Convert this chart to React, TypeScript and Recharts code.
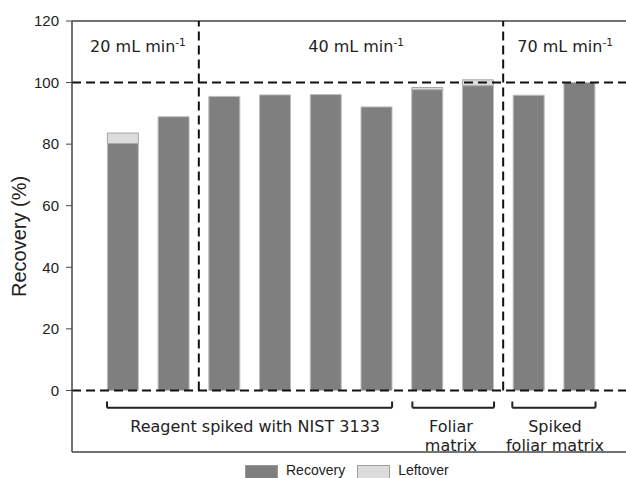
import React from 'react';
import { ComposedChart, Bar, XAxis, YAxis, ReferenceLine, ReferenceDot, Legend } from 'recharts';

// bar positions on the x scale (one per sample)
const positions = [1, 2, 3, 4, 5, 6, 7, 8, 9, 10];
const recovery = [80.2, 88.9, 95.5, 96.0, 96.1, 92.1, 97.7, 99.0, 95.9, 100.0];
const leftover = [3.4, 0, 0, 0, 0, 0, 0.7, 1.9, 0, 0];
const yTicks = [0, 20, 40, 60, 80, 100, 120];

// flow-rate headers
const flowLabels = ['20 mL min', '40 mL min', '70 mL min'];
const flowX = [1.3, 5.6, 9.72];
const flowSplits = [2.5, 8.5];

// sample group brackets
const groupLabels = [['Reagent spiked with NIST 3133'], ['Foliar', 'matrix'], ['Spiked', 'foliar matrix']];
const groupStart = [0.69, 6.71, 8.68];
const groupEnd = [6.31, 8.32, 10.32];
const groupTextX = [3.61, 7.47, 9.52];

const data = positions.map((x, i) => ({ x, recovery: recovery[i], leftover: leftover[i] }));

const ANN_FONT = '"DejaVu Sans", Verdana, sans-serif';
const AXIS_FONT = '"Liberation Sans", Arial, sans-serif';
const DASH = '9 5';

const flowLabel = (text: string) => (props: any) => {
  const { viewBox } = props;
  const cx = viewBox.x + viewBox.width / 2;
  const cy = viewBox.y + viewBox.height / 2;
  return (
    <text x={cx} y={cy + 6} textAnchor="middle" fontFamily={ANN_FONT} fontSize={16} fill="#222">
      <tspan>{text}</tspan>
      <tspan dy={-6} fontSize={10.5}>-1</tspan>
    </text>
  );
};

const groupLabel = (lines: string[]) => (props: any) => {
  const { viewBox } = props;
  const cx = viewBox.x + viewBox.width / 2;
  const cy = viewBox.y + viewBox.height / 2;
  return (
    <text x={cx} y={cy} textAnchor="middle" fontFamily={ANN_FONT} fontSize={16} fill="#222">
      {lines.map((l, i) => (
        <tspan key={l} x={cx} dy={i === 0 ? 6 : 19}>{l}</tspan>
      ))}
    </text>
  );
};

const yLabel = (props: any) => {
  const { viewBox } = props;
  const x = viewBox.x + 26;
  const y = viewBox.y + viewBox.height / 2;
  return (
    <text x={x} y={y} transform={`rotate(-90, ${x}, ${y})`} textAnchor="middle" fontFamily={AXIS_FONT} fontSize={20} fill="#222">
      Recovery (%)
    </text>
  );
};

const LegendContent = () => (
  <div style={{ display: 'flex', alignItems: 'flex-start', paddingLeft: 245, paddingTop: 3, height: 13, fontFamily: AXIS_FONT, fontSize: 14, lineHeight: '14px', color: '#222' }}>
    <span style={{ width: 31, height: 12, background: '#7f7f7f', border: '1px solid #9a9a9a', marginRight: 8 }} />
    <span style={{ marginRight: 12, marginTop: -2 }}>Recovery</span>
    <span style={{ width: 31, height: 12, background: '#dcdcdc', border: '1px solid #a0a0a0', marginRight: 8 }} />
    <span style={{ marginTop: -2 }}>Leftover</span>
  </div>
);

export default function App() {
  return (
    <div style={{ position: 'absolute', left: 0, top: 0, width: 626, height: 478, overflow: 'hidden', background: '#fff' }}>
      <ComposedChart width={626} height={478} data={data} margin={{ top: 21, right: -4, left: 0, bottom: 0 }}>
        <XAxis type="number" dataKey="x" domain={[0, 11]} tick={false} tickLine={false} height={10}
          axisLine={{ stroke: '#444', strokeWidth: 1.5 }} />
        <YAxis type="number" domain={[-20, 120]} ticks={yTicks} width={72} tickSize={6} tickMargin={7}
          tick={{ fontFamily: AXIS_FONT, fontSize: 15, fill: '#222' }}
          axisLine={{ stroke: '#444', strokeWidth: 1.5 }} tickLine={{ stroke: '#444' }}
          label={{ content: yLabel }} />
        <Legend verticalAlign="bottom" align="left" content={<LegendContent />} wrapperStyle={{ left: 0, width: 626 }} />
        <Bar dataKey="recovery" stackId="a" fill="#7f7f7f" stroke="#bdbdbd" strokeWidth={1} barSize={31} isAnimationActive={false} />
        <Bar dataKey="leftover" stackId="a" fill="#dcdcdc" stroke="#a6a6a6" strokeWidth={1} barSize={31} isAnimationActive={false} />
        <ReferenceLine y={120} stroke="#444" strokeWidth={1.5} />
        <ReferenceLine y={100} stroke="#111" strokeWidth={2} strokeDasharray={DASH} />
        <ReferenceLine y={0} stroke="#111" strokeWidth={2} strokeDasharray={DASH} />
        {flowSplits.map((x) => (
          <ReferenceLine key={`split-${x}`} segment={[{ x, y: 0 }, { x, y: 120 }]} stroke="#111" strokeWidth={2} strokeDasharray={DASH} />
        ))}
        {flowLabels.map((t, i) => (
          <ReferenceDot key={t} x={flowX[i]} y={112} r={0} stroke="none" fill="none" label={flowLabel(t)} />
        ))}
        {groupLabels.map((lines, i) => (
          <React.Fragment key={lines.join(' ')}>
            <ReferenceLine segment={[{ x: groupStart[i], y: -5.6 }, { x: groupEnd[i], y: -5.6 }]} stroke="#222" strokeWidth={2} />
            <ReferenceLine segment={[{ x: groupStart[i], y: -5.6 }, { x: groupStart[i], y: -3.6 }]} stroke="#222" strokeWidth={2} />
            <ReferenceLine segment={[{ x: groupEnd[i], y: -5.6 }, { x: groupEnd[i], y: -3.6 }]} stroke="#222" strokeWidth={2} />
            <ReferenceDot x={groupTextX[i]} y={-11.5} r={0} stroke="none" fill="none" label={groupLabel(lines)} />
          </React.Fragment>
        ))}
      </ComposedChart>
    </div>
  );
}
